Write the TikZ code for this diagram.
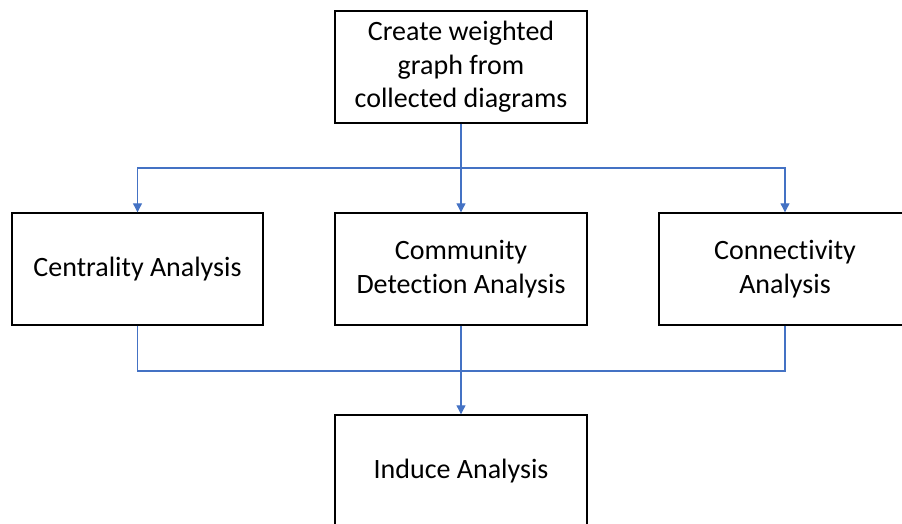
\documentclass[tikz,border=0pt]{standalone}
\usepackage{fontspec}
\setmainfont{Carlito}[Ligatures={NoCommon}]
\usetikzlibrary{arrows.meta}
\definecolor{flowblue}{HTML}{4472C4}
\begin{document}
\begin{tikzpicture}[x=1pt,y=-1pt,
  stepbox/.style={draw=black, line width=1.4pt, fill=white, minimum width=252pt,
    minimum height=112pt, inner sep=0pt, align=center,
    font=\fontsize{28}{33.5}\selectfont},
  link/.style={draw=flowblue, line width=1.1pt},
  flow/.style={link, -{Triangle[length=9pt,width=9pt]}}]
\useasboundingbox (0,0) rectangle (902,523);
\node[stepbox] (graph) at (461,67) {Create weighted\\graph from\\collected diagrams};
\node[stepbox, minimum width=251pt] (central) at (137.5,269) {Centrality Analysis};
\node[stepbox] (community) at (461,269) {Community\\Detection Analysis};
\node[stepbox] (connect) at (785,269) {Connectivity\\Analysis};
\node[stepbox] (induce) at (461,471) {Induce Analysis};
% fan-out from the graph step
\coordinate (split) at (461,168);
\draw[flow] (graph.south) -- (community.north);
\draw[flow] (split) -| (central.north);
\draw[flow] (split) -| (connect.north);
% merge into the final step
\coordinate (merge) at (461,371);
\draw[link] (central.south) |- (merge);
\draw[link] (connect.south) |- (merge);
\draw[flow] (community.south) -- (induce.north);
\end{tikzpicture}
\end{document}
